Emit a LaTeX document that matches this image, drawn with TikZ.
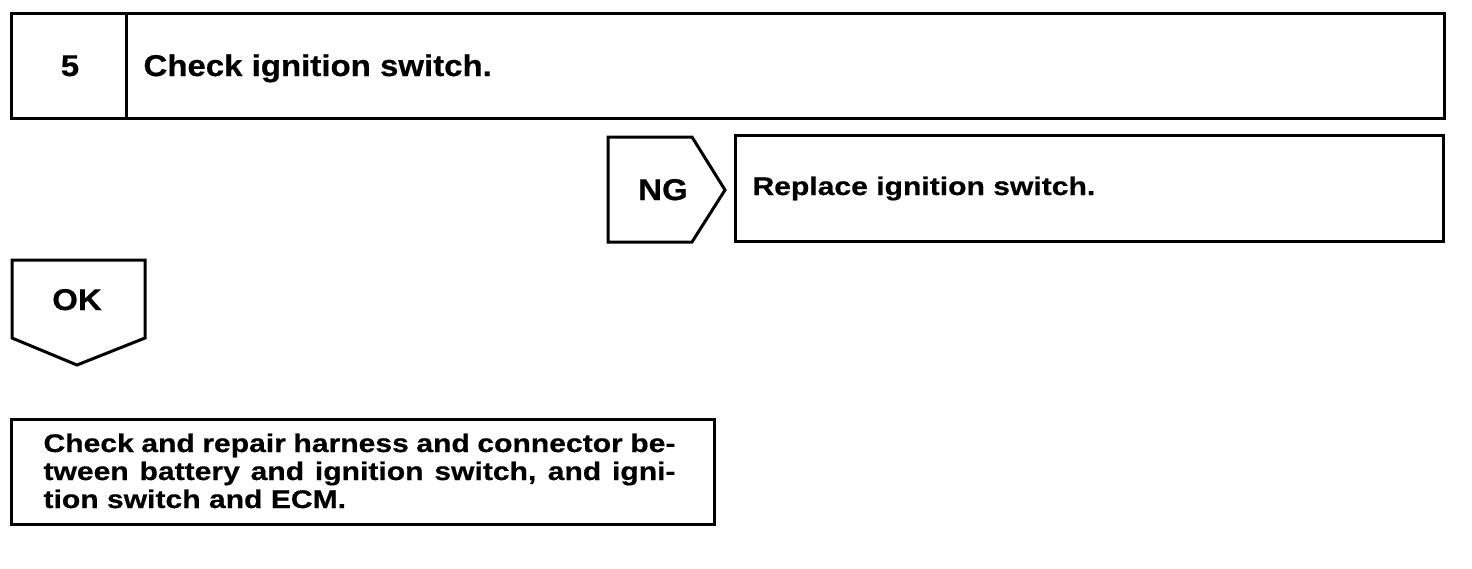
\documentclass[tikz,border=0pt]{standalone}
\usepackage{fontspec}
\setmainfont{Liberation Sans}
\newfontfamily\headfont{Liberation Sans}[FakeStretch=1.1,FakeBold=0.6]
\newfontfamily\notefont{Liberation Sans}[FakeStretch=1.18,FakeBold=0.6]
\begin{document}
\begin{tikzpicture}[x=1pt,y=-1pt,line join=miter,line width=3pt,
  head/.style={inner sep=0pt,font=\headfont\bfseries\fontsize{30}{34}\selectfont},
  note/.style={inner sep=0pt,anchor=base west,font=\notefont\bfseries\fontsize{25.5}{28}\selectfont}]
\useasboundingbox (0,0) rectangle (1472,568);
% step box
\draw (11,13) rectangle (1444,118);
\draw (126,13)--(126,118);
% NG tag and its box
\draw (608,137)--(692,137)--(725,190)--(692,242)--(608,242)--cycle;
\draw (735,135) rectangle (1443,241);
% OK tag
\draw (12,260)--(145,260)--(145,338)--(77,365)--(12,338)--cycle;
% repair box
\draw (11,419) rectangle (714,524);

    \node[head,anchor=base] (stepNo) at (70,76) {5};
    \node[head,anchor=base west] (stepText) at (142,76) {Check ignition switch.};
    \node[head,anchor=base] (ngTag) at (663,200) {NG};
    \node[head,anchor=base] (okTag) at (77,310) {OK};
    \node[note] (ngText) at (751,195) {Replace ignition switch.};
    \node[note] (fixA) at (42,452) {\makebox[632pt][s]{Check and repair harness and connector be-}};
    \node[note] (fixB) at (42,480) {\makebox[632pt][s]{tween battery and ignition switch, and igni-}};
    \node[note] (fixC) at (42,508) {tion switch and ECM.};
  \end{tikzpicture}
\end{document}
